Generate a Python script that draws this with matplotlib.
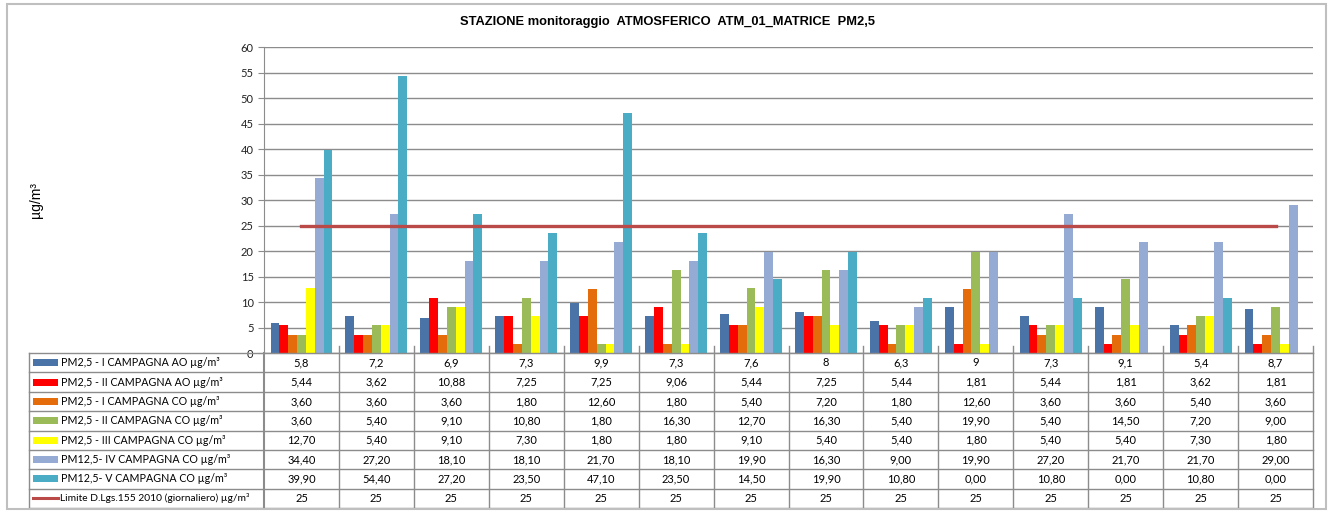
import numpy as np
import matplotlib.pyplot as plt
from matplotlib.patches import Rectangle

# --- data ---
n_cat = 14
serie_nomi = [
    "PM2,5 - I CAMPAGNA AO µg/m³",
    "PM2,5 - II CAMPAGNA AO µg/m³",
    "PM2,5 - I CAMPAGNA CO µg/m³",
    "PM2,5 - II CAMPAGNA CO µg/m³",
    "PM2,5 - III CAMPAGNA CO µg/m³",
    "PM12,5- IV CAMPAGNA CO µg/m³",
    "PM12,5- V CAMPAGNA CO µg/m³",
]
camp1_ao = [5.8, 7.2, 6.9, 7.3, 9.9, 7.3, 7.6, 8, 6.3, 9, 7.3, 9.1, 5.4, 8.7]
camp2_ao = [5.44, 3.62, 10.88, 7.25, 7.25, 9.06, 5.44, 7.25, 5.44, 1.81, 5.44, 1.81, 3.62, 1.81]
camp1_co = [3.60, 3.60, 3.60, 1.80, 12.60, 1.80, 5.40, 7.20, 1.80, 12.60, 3.60, 3.60, 5.40, 3.60]
camp2_co = [3.60, 5.40, 9.10, 10.80, 1.80, 16.30, 12.70, 16.30, 5.40, 19.90, 5.40, 14.50, 7.20, 9.00]
camp3_co = [12.70, 5.40, 9.10, 7.30, 1.80, 1.80, 9.10, 5.40, 5.40, 1.80, 5.40, 5.40, 7.30, 1.80]
camp4_co = [34.40, 27.20, 18.10, 18.10, 21.70, 18.10, 19.90, 16.30, 9.00, 19.90, 27.20, 21.70, 21.70, 29.00]
camp5_co = [39.90, 54.40, 27.20, 23.50, 47.10, 23.50, 14.50, 19.90, 10.80, 0.00, 10.80, 0.00, 10.80, 0.00]
limite_nome = "Limite D.Lgs.155 2010 (giornaliero) µg/m³"
limite = [25] * n_cat

serie = [camp1_ao, camp2_ao, camp1_co, camp2_co, camp3_co, camp4_co, camp5_co]
colori = ["#4A74A8", "#FF0000", "#E46C0A", "#9BBB59", "#FFFF00", "#95ABD4", "#4BACC6"]
col_limite = "#B94A48"

def fmt(v, dec):
    s = f"{v:g}" if dec is None else f"{v:.{dec}f}"
    return s.replace(".", ",")

righe_dec = [None, 2, 2, 2, 2, 2, 2]

W, H = 1333, 511
fig = plt.figure(figsize=(W / 100, H / 100), dpi=100)
plt.rcParams['font.family'] = ['Lato', 'DejaVu Sans']

# outer border
fig.patches.append(Rectangle((7 / W, 2 / H), 1319 / W, 505 / H, transform=fig.transFigure,
                             fill=False, edgecolor="#BFBFBF", lw=1.5))

x0, x1, ytop, ybot = 264, 1313, 47, 353
ax = fig.add_axes([x0 / W, (H - ybot) / H, (x1 - x0) / W, (ybot - ytop) / H])

x = np.arange(n_cat)
bw = 0.118
for i, (vals, c) in enumerate(zip(serie, colori)):
    ax.bar(x + (i - 3) * bw, vals, width=bw, color=c, edgecolor="none", zorder=3)
ax.plot(x, limite, color=col_limite, lw=2.4, zorder=4)

ax.set_xlim(-0.5, n_cat - 0.5)
ax.set_ylim(0, 60)
ax.set_yticks(range(0, 61, 5))
ax.set_xticks([])
ax.yaxis.grid(True, color="#8C8C8C", lw=1)
ax.tick_params(axis="y", length=4, color="#8C8C8C", labelsize=8, labelcolor="#222222")
for s in ["top", "right"]:
    ax.spines[s].set_visible(False)
ax.spines["left"].set_color("#8C8C8C")
ax.spines["bottom"].set_color("#8C8C8C")

fig.text(667 / W, 1 - 22 / H, "STAZIONE monitoraggio  ATMOSFERICO  ATM_01_MATRICE  PM2,5",
         ha="center", va="center", fontsize=9.3, fontweight="bold", family="Liberation Sans")
fig.text(36 / W, 1 - 200 / H, "µg/m³", rotation=90, ha="center", va="center",
         fontsize=10, family="Liberation Sans")

# --- data table ---
tx0, tbot = 29, 508
upp = (x1 - x0) / n_cat
left_unit = -0.5 - (x0 - tx0) / upp
tab = fig.add_axes([tx0 / W, (H - tbot) / H, (x1 - tx0) / W, (tbot - ybot) / H])
tab.set_xlim(left_unit, n_cat - 0.5)
nrow = len(serie) + 1
tab.set_ylim(nrow, 0)
tab.axis("off")

gcol = "#8C8C8C"
for r in range(nrow + 1):
    tab.plot([left_unit, n_cat - 0.5], [r, r], color=gcol, lw=1, clip_on=False)
tab.plot([left_unit, left_unit], [0, nrow], color=gcol, lw=1, clip_on=False)
for c in range(n_cat + 1):
    tab.plot([c - 0.5, c - 0.5], [-0.35 if c > 0 else 0, nrow], color=gcol,
             lw=1.5 if c == 0 else 1, clip_on=False)

fs = 8
fs_lab = 7.7
sw_x = left_unit + 4 / upp
sw_w = 25 / upp
for r, (nome, vals, c, dec) in enumerate(zip(serie_nomi, serie, colori, righe_dec)):
    tab.add_patch(Rectangle((sw_x, r + 0.32), sw_w, 0.36, color=c, lw=0))
    tab.text(sw_x + sw_w + 3 / upp, r + 0.5, nome, va="center", ha="left", fontsize=fs_lab)
    for j, v in enumerate(vals):
        tab.text(j, r + 0.5, fmt(v, dec), ha="center", va="center", fontsize=fs)
r = nrow - 1
tab.plot([sw_x, sw_x + sw_w], [r + 0.5, r + 0.5], color=col_limite, lw=2.2)
tab.text(sw_x + sw_w + 2 / upp, r + 0.5, limite_nome, va="center", ha="left", fontsize=7.4)
for j, v in enumerate(limite):
    tab.text(j, r + 0.5, fmt(v, None), ha="center", va="center", fontsize=fs)

fig.savefig("out.png", dpi=100)
